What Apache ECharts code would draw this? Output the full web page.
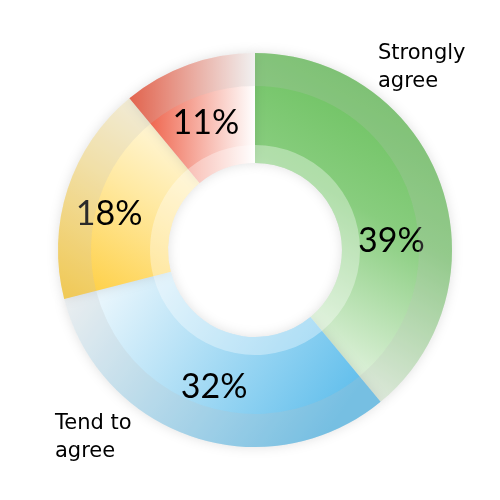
<!DOCTYPE html>
<html><head><meta charset="utf-8">
<script src="https://cdn.jsdelivr.net/npm/echarts@6/dist/echarts.min.js"></script>
<style>html,body{margin:0;padding:0;background:#fff}#c{width:500px;height:500px}</style>
</head><body><div id="c"></div>
<script>
var categories = ['Strongly agree', 'Tend to agree', 'Tend to disagree', 'Strongly disagree'];
var values = [39, 32, 18, 11];
var labels = ['39%', '32%', '18%', '11%'];
var shownNames = ['Strongly\nagree', 'Tend to\nagree'];

var FONT = 'Lato, "Noto Sans", sans-serif';
var NAMEFONT = '"DejaVu Sans", sans-serif';
function lg(x, y, x2, y2, stops) {
  return new echarts.graphic.LinearGradient(x, y, x2, y2, stops.map(function (s) { return { offset: s[0], color: s[1] }; }));
}
var fills = [
  lg(1, 0, 0, 1, [[0, '#5cbb4e'], [0.45, '#88cd7e'], [0.92, '#f6fbf4'], [1, '#ffffff']]),
  lg(0, 0, 0.8, 1, [[0, '#ffffff'], [1, '#62bfec']]),
  lg(0, 1, 0.9, 0, [[0, '#fecb35'], [0.55, '#ffe9a2'], [1, '#fffdf2']]),
  lg(0, 0.3, 1, 0.3, [[0, '#ec4a2e'], [1, '#ffffff']])
];
var labelShift = [[0, 40], [4, -1], [-8, 9], [0, 9]];
var center = ['51%', '50%'];
var baseData = values.map(function (v, i) {
  return { name: categories[i], value: v, itemStyle: { color: fills[i] },
    label: { formatter: labels[i], offset: labelShift[i] } };
});
var overlay = function (col) {
  return values.map(function (v, i) { return { name: categories[i], value: v, itemStyle: { color: col } }; });
};
var option = {
  animation: false,
  series: [
    {
      type: 'pie', center: center, radius: [87, 197], startAngle: 90, clockwise: true,
      silent: true, label: { show: true, position: 'inside', fontFamily: FONT, fontSize: 34, color: '#000', fontWeight: 'normal' },
      labelLine: { show: false }, itemStyle: { borderWidth: 0, shadowBlur: 12, shadowColor: 'rgba(0,0,0,0.12)' },
      data: baseData, z: 1
    },
    {
      type: 'pie', center: center, radius: [164, 197], startAngle: 90, silent: true,
      label: { show: false }, labelLine: { show: false }, itemStyle: { borderWidth: 0 },
      data: overlay('rgba(190,190,190,0.22)'), z: 2
    },
    {
      type: 'pie', center: center, radius: [87, 105], startAngle: 90, silent: true,
      label: { show: false }, labelLine: { show: false }, itemStyle: { borderWidth: 0 },
      data: overlay('rgba(255,255,255,0.35)'), z: 2
    }
  ],
  graphic: [
    { type: 'text', left: 378, top: 40, z: 10, style: { text: shownNames[0], font: '21px ' + NAMEFONT, fill: '#000', lineHeight: 28 } },
    { type: 'text', left: 55, top: 410, z: 10, style: { text: shownNames[1], font: '21px ' + NAMEFONT, fill: '#000', lineHeight: 28 } }
  ]
};
var chart = echarts.init(document.getElementById('c'));
chart.setOption(option);
</script></body></html>
